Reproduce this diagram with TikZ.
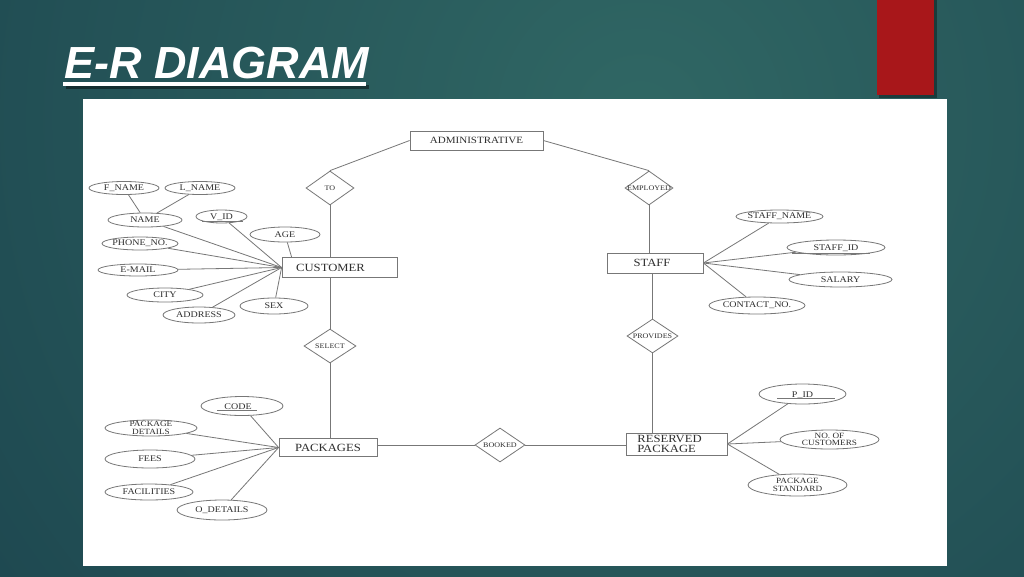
\documentclass[tikz,border=0pt]{standalone}
\usepackage{fontspec}
\setmainfont{Liberation Serif}
\newfontfamily\erfont[FakeStretch=1.15]{Liberation Serif}
\newfontfamily\ttlfont{Liberation Sans}
\usetikzlibrary{shapes.geometric,calc}
\definecolor{bgout}{HTML}{163B48}
\definecolor{bgin}{HTML}{306764}
\definecolor{barred}{HTML}{A8171A}
\definecolor{ln}{HTML}{777777}
\definecolor{tx}{HTML}{2E2E2E}
\begin{document}
\begin{tikzpicture}[x=1pt,y=-1pt,
  ent/.style={draw=ln, line width=0.8pt, fill=white, rectangle, inner sep=0},
  etxt/.style={font=\erfont\fontsize{11}{10.5}\selectfont, text=tx, inner sep=0, align=left},
  rel/.style={draw=ln, line width=0.8pt, fill=white, diamond, inner sep=0, minimum width=50, minimum height=34},
  reltxt/.style={font=\erfont\fontsize{7}{7}\selectfont, text=tx, inner sep=0},
  attr/.style={draw=ln, line width=0.8pt, fill=white, ellipse, inner sep=0},
  atxt/.style={font=\erfont\fontsize{8.7}{8}\selectfont, text=tx, inner sep=0, align=center},
  atxtt/.style={font=\erfont\fontsize{8}{7.5}\selectfont, text=tx, inner sep=0, align=center},
  conn/.style={draw=ln, line width=0.8pt},
  uline/.style={draw=ln, line width=0.6pt}]
\useasboundingbox (0,0) rectangle (1024,576);
% background
\begin{scope}
\clip (0,0) rectangle (1024,576);
\fill[bgout] (0,0) rectangle (1024,576);
\shade[inner color=bgin, outer color=bgout] (640,120) circle (1150);
\end{scope}
% red bar
\fill[black, opacity=.35] (879,0) rectangle (937,98);
\fill[barred] (877,0) rectangle (934,95);
% title
\fill[black, opacity=.45] (65.5,84.5) rectangle (368.5,88.5);
\node[anchor=base west, inner sep=0, text=white, font=\ttlfont\bfseries\itshape\fontsize{45}{45}\selectfont] (title) at (64,78) {E-R DIAGRAM};
\fill[white] (63,82) rectangle (366,86);
% panel
\fill[white] (83,99) rectangle (947,566);

% entities
\node[ent, minimum width=133, minimum height=19, label={[etxt,font=\erfont\fontsize{9.6}{9.6}\selectfont]center:ADMINISTRATIVE}] (admin) at (476.5,140.5) {};
\node[ent, minimum width=115, minimum height=20, label={[etxt,xshift=-9]center:CUSTOMER}] (customer) at (339.5,267.5) {};
\node[ent, minimum width=96, minimum height=20, label={[etxt,xshift=-3]center:STAFF}] (staff) at (655,263) {};
\node[ent, minimum width=98, minimum height=18, label={[etxt]center:PACKAGES}] (packages) at (328,447.5) {};
\node[ent, minimum width=101, minimum height=22, label={[etxt,xshift=-7]center:RESERVED\\PACKAGE}] (reserved) at (676.5,444) {};

% relationships
\node[rel, minimum width=48, label={[reltxt]center:TO}] (to) at (330,188) {};
\node[rel, minimum width=48, label={[reltxt]center:EMPLOYED}] (employed) at (649,188) {};
\node[rel, minimum width=52, label={[reltxt]center:SELECT}] (select) at (330,346) {};
\node[rel, minimum width=51, label={[reltxt]center:PROVIDES}] (provides) at (652.5,336) {};
\node[rel, minimum width=50, label={[reltxt]center:BOOKED}] (booked) at (500,445) {};

% relationship connectors
\draw[conn] (admin.west) -- (to.north);
\draw[conn] (admin.east) -- (employed.north);
\draw[conn] (to.south) -- (to.south |- customer.north);
\draw[conn] (select.north |- customer.south) -- (select.north);
\draw[conn] (select.south) -- (select.south |- packages.north);
\draw[conn] (booked.west -| packages.east) -- (booked.west);
\draw[conn] (booked.east) -- (booked.east -| reserved.west);
\draw[conn] (employed.south) -- (employed.south |- staff.north);
\draw[conn] (provides.north |- staff.south) -- (provides.north);
\draw[conn] (provides.south) -- (provides.south |- reserved.north);

% customer attributes
\node[attr, minimum width=70, minimum height=13, label={[atxt]center:F\_NAME}] (fname) at (124,188) {};
\node[attr, minimum width=70, minimum height=13, label={[atxt]center:L\_NAME}] (lname) at (200,188) {};
\node[attr, minimum width=74, minimum height=14, label={[atxt]center:NAME}] (name) at (145,220) {};
\node[attr, minimum width=51, minimum height=13, label={[atxt,yshift=-1]center:V\_ID}] (vid) at (221.5,216.5) {};
\node[attr, minimum width=70, minimum height=15, label={[atxt]center:AGE}] (age) at (285,234.5) {};
\node[attr, minimum width=76, minimum height=13, label={[atxt]center:PHONE\_NO.}] (phone) at (140,243.5) {};
\node[attr, minimum width=80, minimum height=12, label={[atxt]center:E-MAIL}] (email) at (138,270) {};
\node[attr, minimum width=76, minimum height=14, label={[atxt]center:CITY}] (city) at (165,295) {};
\node[attr, minimum width=72, minimum height=16, label={[atxt]center:ADDRESS}] (address) at (199,315) {};
\node[attr, minimum width=68, minimum height=16, label={[atxt]center:SEX}] (sex) at (274,306) {};
\draw[uline] ($(vid)+(-19.5,4.5)$) -- ($(vid)+(21.5,4.5)$);

\draw[conn] (fname) -- (name);
\draw[conn] (lname) -- (name);
\foreach \a in {name,vid,phone,email,city,address,sex}
  \draw[conn] (\a) -- (customer.west);
\coordinate (agept) at ($(customer.north west)+(10,0)$);
\draw[conn] (age) -- (agept);

% staff attributes
\node[attr, minimum width=87, minimum height=13, label={[atxt]center:STAFF\_NAME}] (staffname) at (779.5,216.5) {};
\node[attr, minimum width=98, minimum height=15, label={[atxt,yshift=-1]center:STAFF\_ID}] (staffid) at (836,247.5) {};
\node[attr, minimum width=103, minimum height=15, label={[atxt]center:SALARY}] (salary) at (840.5,279.5) {};
\node[attr, minimum width=96, minimum height=17, label={[atxt]center:CONTACT\_NO.}] (contact) at (757,305.5) {};
\draw[uline] ($(staffid)+(-44,5.5)$) -- ($(staffid)+(34,5.5)$);
\foreach \a in {staffname,staffid,salary,contact}
  \draw[conn] (\a) -- (staff.east);

% packages attributes
\node[attr, minimum width=82, minimum height=19, label={[atxt,xshift=-4,yshift=-1]center:CODE}] (code) at (242,406) {};
\node[attr, minimum width=92, minimum height=16, label={[atxtt]center:PACKAGE\\DETAILS}] (pdetails) at (151,428) {};
\node[attr, minimum width=90, minimum height=18, label={[atxt]center:FEES}] (fees) at (150,459) {};
\node[attr, minimum width=88, minimum height=16, label={[atxt]center:FACILITIES}] (facilities) at (149,492) {};
\node[attr, minimum width=90, minimum height=20, label={[atxt]center:O\_DETAILS}] (odetails) at (222,510) {};
\draw[uline] ($(code)+(-25,4)$) -- ($(code)+(15,4)$);
\foreach \a in {code,pdetails,fees,facilities,odetails}
  \draw[conn] (\a) -- (packages.west);

% reserved package attributes
\node[attr, minimum width=87, minimum height=20, label={[atxt,yshift=-1]center:P\_ID}] (pid) at (802.5,394) {};
\node[attr, minimum width=99, minimum height=19, label={[atxtt]center:NO. OF\\CUSTOMERS}] (nocust) at (829.5,439.5) {};
\node[attr, minimum width=99, minimum height=22, label={[atxtt]center:PACKAGE\\STANDARD}] (pstd) at (797.5,485) {};
\draw[uline] ($(pid)+(-25.5,4)$) -- ($(pid)+(32.5,4)$);
\foreach \a in {pid,nocust,pstd}
  \draw[conn] (\a) -- (reserved.east);
\end{tikzpicture}
\end{document}
